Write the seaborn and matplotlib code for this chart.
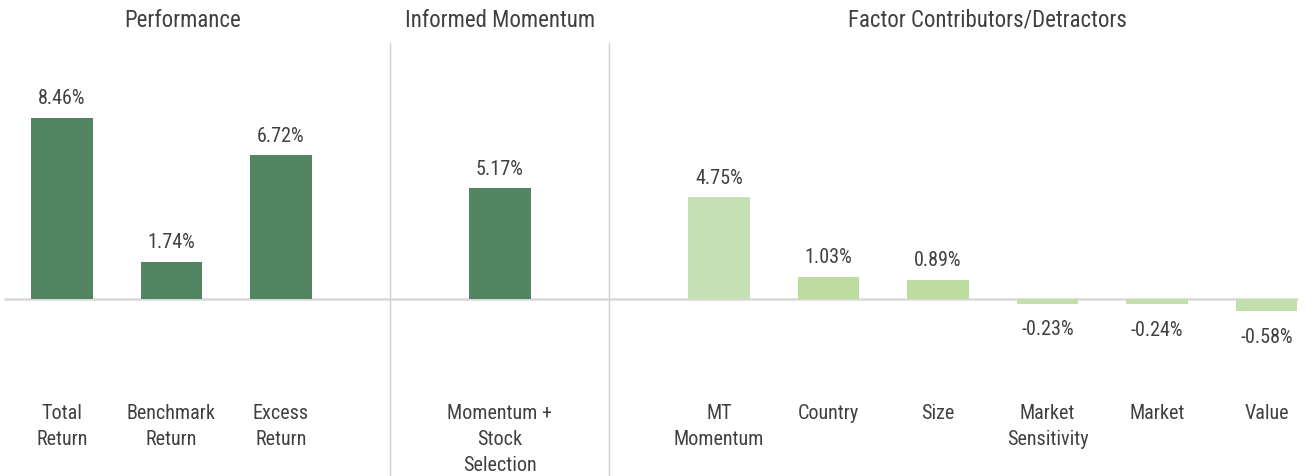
import matplotlib
matplotlib.use("Agg")
import matplotlib.pyplot as plt
import seaborn as sns
import pandas as pd
from matplotlib import font_manager

categories = ["Total\nReturn", "Benchmark\nReturn", "Excess\nReturn",
              "Momentum +\nStock\nSelection",
              "MT\nMomentum", "Country", "Size", "Market\nSensitivity", "Market", "Value"]
values = [8.46, 1.74, 6.72, 5.17, 4.75, 1.03, 0.89, -0.23, -0.24, -0.58]
positions = [0, 1, 2, 4, 6, 7, 8, 9, 10, 11]
colors = ["#548562", "#548562", "#548562", "#548562",
          "#c5e0b4", "#bddc9f", "#bddc9f", "#c3dfae", "#c3dfae", "#c3dfae"]
section_titles = ["Performance", "Informed Momentum", "Factor Contributors/Detractors"]
section_centers = [1.1, 4.0, 8.45]
separators = [3, 5]

sns.set_theme(style="white")
avail = {f.name for f in font_manager.fontManager.ttflist}
cands = ["Roboto Condensed", "DejaVu Sans Condensed", "Liberation Sans Narrow",
         "Open Sans Condensed", "Noto Sans Condensed", "Noto Sans Display"]
fam = next((c for c in cands if c in avail), "DejaVu Sans")
condensed = fam != "DejaVu Sans"
plt.rcParams["font.family"] = [fam, "DejaVu Sans"]

df = pd.DataFrame({"pos": positions, "value": values, "cat": categories})
palette = dict(zip(categories, colors))

fig = plt.figure(figsize=(13.14, 4.77), dpi=100)
ax = fig.add_axes([0, 0, 1, 1])
sns.barplot(data=df, x="pos", y="value", hue="cat", palette=palette,
            native_scale=True, width=0.56, legend=False, ax=ax,
            saturation=1, edgecolor="none")

ax.set_xlim(-0.566, 11.434)
ax.set_ylim(-8.27, 14.02)
for s in ax.spines.values():
    s.set_visible(False)
ax.set_xticks([]); ax.set_yticks([])
ax.set_xlabel(""); ax.set_ylabel("")

ax.axhline(0, color="#d9d9d9", lw=1.8, zorder=0, xmin=0.004, xmax=0.987)
for sp in separators:
    ax.plot([sp, sp], [11.95, -8.27], color="#d0d0d0", lw=1.0, zorder=0)

tc = "#404040"
ppu = 21.4
k = 1.0 if condensed else 0.86
for p, v in zip(positions, values):
    if v >= 0:
        ax.annotate(f"{v:.2f}%", (p, v), xytext=(0, 14.5), textcoords="offset points",
                    ha="center", va="center", fontsize=14.5 * k, color=tc)
    else:
        ax.annotate(f"{v:.2f}%", (p, v), xytext=(0, -18), textcoords="offset points",
                    ha="center", va="center", fontsize=14.5 * k, color=tc)

line_px = [413, 439, 465]
for p, c in zip(positions, categories):
    for i, line in enumerate(c.split("\n")):
        ax.text(p, (300 - line_px[i]) / ppu, line, ha="center", va="center",
                fontsize=14.5 * k, color=tc)

for t, cx in zip(section_titles, section_centers):
    ax.text(cx, (300 - 20) / ppu, t, ha="center", va="center", fontsize=16.5 * k, color=tc)

fig.savefig("out.png", dpi=100)
